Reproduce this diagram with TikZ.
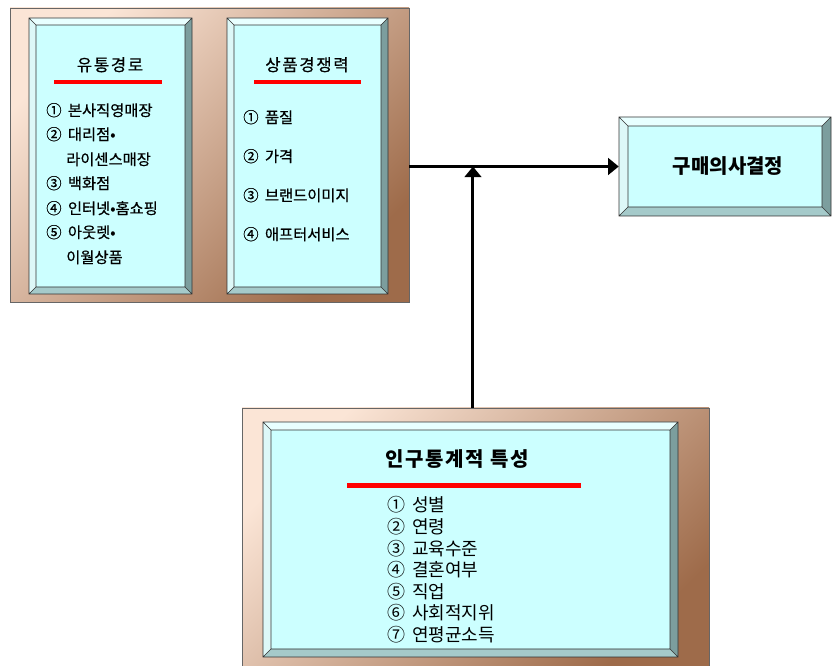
\documentclass[tikz,border=0pt]{standalone}
\usepackage{fontspec}
\setmainfont{Noto Sans CJK KR}
\usetikzlibrary{arrows.meta,fit}
\definecolor{frmA}{HTML}{FBE5D6}
\definecolor{frmB}{HTML}{CCA088}
\definecolor{frmC}{HTML}{9E6B4A}
\definecolor{bvface}{HTML}{CCFFFF}
\definecolor{bvtop}{HTML}{E8FFFF}
\definecolor{bvleft}{HTML}{DDF8F8}
\definecolor{bvright}{HTML}{7C9E9E}
\definecolor{bvbot}{HTML}{A5CACA}
\definecolor{lineg}{HTML}{333333}
\newcommand\cn[1]{#1\hspace{2.2pt}}
\newcommand\mybevel[5]{%
  \fill[bvface] ({#1+#5},{#2+#5}) rectangle ({#3-#5},{#4-#5});
  \fill[bvtop] (#1,#2) -- (#3,#2) -- ({#3-#5},{#2+#5}) -- ({#1+#5},{#2+#5}) -- cycle;
  \fill[bvleft] (#1,#2) -- ({#1+#5},{#2+#5}) -- ({#1+#5},{#4-#5}) -- (#1,#4) -- cycle;
  \fill[bvright] (#3,#2) -- (#3,#4) -- ({#3-#5},{#4-#5}) -- ({#3-#5},{#2+#5}) -- cycle;
  \fill[bvbot] (#1,#4) -- (#3,#4) -- ({#3-#5},{#4-#5}) -- ({#1+#5},{#4-#5}) -- cycle;
  \draw[bvline] (#1,#2) rectangle (#3,#4) ({#1+#5},{#2+#5}) rectangle ({#3-#5},{#4-#5})
    (#1,#2) -- ({#1+#5},{#2+#5}) (#3,#2) -- ({#3-#5},{#2+#5})
    (#1,#4) -- ({#1+#5},{#4-#5}) (#3,#4) -- ({#3-#5},{#4-#5});
}
\begin{document}
\begin{tikzpicture}[x=0.75pt,y=-0.75pt,
  frame/.style={draw=black!60, line width=0.6pt, inner sep=0pt,
     top color=frmA, middle color=frmB, bottom color=frmC, shading angle=45},
  bvline/.style={draw=lineg, line width=0.5pt},
  ghost/.style={inner sep=0pt},
  redbar/.style={draw=red, line width=3pt},
  redbarb/.style={draw=red, line width=3.75pt},
  txt/.style={inner sep=0pt, text height=0.8em, text depth=0.2em, anchor=west},
  itemA/.style={txt, font=\fontsize{11.5}{13}\selectfont\addfontfeature{FakeBold=0.6}},
  itemB/.style={txt, font=\fontsize{13.5}{16}\selectfont},
  ttlA/.style={inner sep=0pt, text height=0.8em, text depth=0.2em,
     font=\fontsize{12.5}{15}\selectfont\addfontfeature{LetterSpace=10,FakeBold=0.5}},
  ttlB/.style={inner sep=0pt, text height=0.8em, text depth=0.2em,
     font=\fontsize{15}{18}\selectfont\bfseries\addfontfeature{LetterSpace=8}},
  ttlC/.style={inner sep=0pt, text height=0.8em, text depth=0.2em,
     font=\fontsize{15}{18}\selectfont\bfseries},
  arr/.style={draw=black, line width=2.25pt, -{Triangle[length=8pt,width=12.5pt]}}]
\useasboundingbox (0,0) rectangle (833,666);
\clip (0,0) rectangle (833,666);
\fill[white] (0,0) rectangle (833,666);

% upper frame
\node[frame, fit={(10,8) (409,302)}] (f1) {};
\mybevel{29}{18}{192}{294}{7}
\mybevel{227}{18}{388}{294}{7}
\node[ghost, fit={(29,18) (192,294)}] (ba) {};
\node[ghost, fit={(227,18) (388,294)}] (bb) {};

\node[ttlA] (ta) at (110,67) {유통경로};
\draw[redbar] (54,82) -- (162,82);
\node[ttlA] (tb) at (307,67) {상품경쟁력};
\draw[redbar] (254,82) -- (361,82);

\node[itemA] (a1) at (46,112) {\cn{①} 본사직영매장};
\node[itemA] (a2) at (46,136) {\cn{②} 대리점•};
\node[itemA] (a2b) at (66,161) {라이센스매장};
\node[itemA] (a3) at (46,185) {\cn{③} 백화점};
\node[itemA] (a4) at (46,210) {\cn{④} 인터넷•홈쇼핑};
\node[itemA] (a5) at (46,234) {\cn{⑤} 아웃렛•};
\node[itemA] (a5b) at (66,259) {이월상품};

\node[itemA] (p1) at (243,119) {\cn{①} 품질};
\node[itemA] (p2) at (243,158) {\cn{②} 가격};
\node[itemA] (p3) at (243,197) {\cn{③} 브랜드이미지};
\node[itemA] (p4) at (243,236) {\cn{④} 애프터서비스};

% decision box
\mybevel{619}{117}{831}{216}{9}
\node[ghost, fit={(619,117) (831,216)}] (dec) {};
\node[ttlC] (dt) at (728,170) {구매의사결정};

% lower frame
\node[frame, fit={(242,408) (709,672)}] (f3) {};
\mybevel{263}{422}{678}{657}{8}
\node[ghost, fit={(263,422) (678,657)}] (bc) {};
\node[ttlB] (tc) at (457,463) {인구통계적 특성};
\draw[redbarb] (347,486) -- (581,486);

\node[itemB] (c1) at (387,508) {\cn{①} 성별};
\node[itemB] (c2) at (387,530) {\cn{②} 연령};
\node[itemB] (c3) at (387,551.5) {\cn{③} 교육수준};
\node[itemB] (c4) at (387,573) {\cn{④} 결혼여부};
\node[itemB] (c5) at (387,594.5) {\cn{⑤} 직업};
\node[itemB] (c6) at (387,616) {\cn{⑥} 사회적지위};
\node[itemB] (c7) at (387,637.5) {\cn{⑦} 연평균소득};

% connectors
\draw[arr] (f1.east |- dec.west) -- (dec.west);
\draw[arr] ([xshift=-1.9pt]f3.north) -- ([xshift=-1.9pt]f3.north |- dec.west);
\end{tikzpicture}
\end{document}
